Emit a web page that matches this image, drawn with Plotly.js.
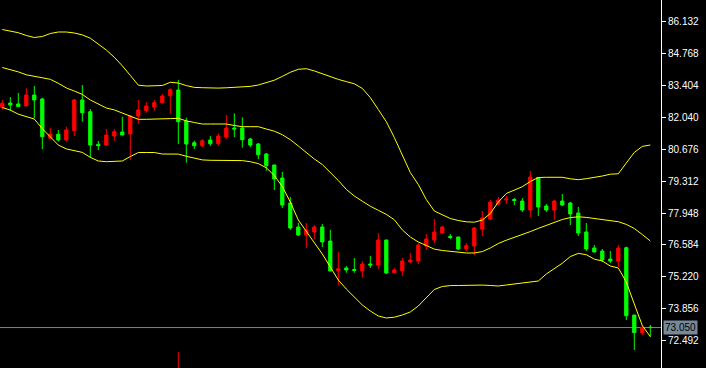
<!DOCTYPE html>
<html>
<head>
<meta charset="utf-8">
<script src="https://cdn.plot.ly/plotly-3.0.1.min.js"></script>
<style>
html,body{margin:0;padding:0;background:#000;}
#chart{width:706px;height:368px;}
</style>
</head>
<body>
<div id="chart"></div>
<script>
// ---- data ----
var openP = [82.471,82.655,82.612,82.526,82.997,82.826,81.145,81.316,81.072,81.470,
  82.783,82.283,80.888,80.857,81.243,81.414,81.329,82.099,82.325,82.484,
  82.668,82.967,83.211,81.885,80.956,80.827,81.072,80.913,81.201,81.585,
  81.585,81.115,80.901,80.473,80.003,79.447,78.377,77.351,77.009,77.137,
  77.351,76.752,75.482,75.597,75.533,75.482,75.768,75.725,76.795,75.396,
  75.482,75.853,75.896,76.538,76.795,77.094,76.944,76.923,76.423,76.538,
  77.265,77.693,78.335,78.506,78.527,78.463,78.078,79.468,78.249,78.078,
  78.463,78.377,77.950,77.137,76.453,76.324,75.982,75.896,76.466,73.587,
  72.830,73.065];
var highP = [82.783,82.911,83.082,83.283,83.382,82.881,81.598,81.500,81.641,82.826,
  83.425,82.398,81.029,81.543,81.543,82.069,82.141,82.783,82.685,82.783,
  83.040,83.283,83.638,82.026,81.042,81.115,81.243,81.358,82.141,82.214,
  82.043,81.158,80.944,80.516,80.010,79.703,78.634,77.535,77.522,77.437,
  77.479,77.223,76.282,75.682,76.025,75.896,76.110,77.094,76.800,75.597,
  76.025,76.239,76.666,77.051,77.693,77.394,77.051,76.930,76.666,77.351,
  78.035,78.506,78.634,78.677,78.591,78.591,79.746,79.480,78.335,78.506,
  78.762,78.420,78.206,77.522,76.581,76.410,76.324,76.581,76.509,73.590,
  73.159,73.159];
var lowP = [82.355,82.312,82.490,82.520,82.000,80.687,81.115,80.999,80.999,81.243,
  81.855,80.315,80.644,80.815,81.042,81.280,80.217,81.756,82.240,82.325,
  82.625,82.201,80.901,80.101,80.687,80.773,80.815,80.827,81.115,81.201,
  80.743,80.773,80.259,79.759,78.933,78.163,77.223,76.967,76.453,76.838,
  76.496,75.460,74.870,75.396,75.396,75.182,75.597,75.554,75.341,75.390,
  75.255,75.823,75.768,76.367,76.666,77.090,76.838,76.367,76.324,76.153,
  76.966,77.650,78.292,78.335,78.292,77.992,77.779,77.821,77.992,77.650,
  78.249,77.436,76.966,76.324,76.270,75.854,75.811,75.640,73.373,72.090,
  72.732,72.659];
var closeP = [82.642,82.569,82.500,82.997,82.783,81.213,81.329,81.072,81.500,82.783,
  82.240,80.857,80.827,81.286,81.427,81.286,82.099,82.355,82.526,82.668,
  82.954,83.223,81.855,80.901,80.827,81.042,80.913,81.243,81.585,81.543,
  81.085,80.857,80.443,79.973,79.404,78.292,77.308,77.009,77.223,77.351,
  76.710,75.469,75.567,75.512,75.490,75.768,75.725,76.795,75.383,75.512,
  75.896,75.939,76.581,76.838,77.137,77.351,76.902,76.410,76.551,77.308,
  77.736,78.420,78.506,78.549,78.484,78.078,79.489,78.206,78.078,78.463,
  78.292,77.907,77.094,76.410,76.282,75.939,75.896,76.453,73.556,72.830,
  73.050,73.050];
var upperBand = [85.798,85.734,85.661,85.542,85.456,85.499,85.627,85.691,85.691,85.649,
  85.567,85.426,85.187,84.921,84.609,84.246,83.835,83.416,83.382,83.382,
  83.403,83.540,83.510,83.399,83.322,83.309,83.292,83.292,83.305,83.326,
  83.343,83.365,83.424,83.523,83.630,83.792,83.968,84.096,84.122,84.027,
  83.895,83.779,83.664,83.570,83.476,83.279,82.885,82.377,81.855,81.179,
  80.452,79.682,79.169,78.527,78.035,77.864,77.714,77.629,77.573,77.556,
  77.650,77.928,78.420,78.784,78.925,79.075,79.297,79.468,79.477,79.477,
  79.477,79.412,79.374,79.417,79.464,79.532,79.609,79.626,80.088,80.542,
  80.798,80.858];
var middleBand = [84.173,84.092,83.985,83.861,83.805,83.745,83.668,83.497,83.300,83.164,
  83.022,82.783,82.612,82.441,82.359,82.231,82.086,81.957,81.957,81.957,
  81.957,81.987,82.000,81.889,81.820,81.756,81.756,81.756,81.756,81.692,
  81.641,81.641,81.641,81.542,81.448,81.299,81.085,80.816,80.529,80.259,
  80.024,79.691,79.340,78.959,78.677,78.454,78.240,78.065,77.890,77.663,
  77.227,76.923,76.709,76.559,76.405,76.346,76.307,76.273,76.239,76.239,
  76.299,76.453,76.645,76.786,76.902,77.043,77.154,77.291,77.415,77.548,
  77.672,77.753,77.787,77.761,77.710,77.659,77.612,77.577,77.462,77.287,
  77.030,76.752];
var lowerBand = [82.462,82.351,82.176,82.077,81.970,81.555,81.200,80.858,80.691,80.614,
  80.542,80.328,80.174,80.144,80.144,80.174,80.362,80.537,80.537,80.537,
  80.473,80.473,80.469,80.375,80.298,80.221,80.204,80.204,80.204,80.204,
  80.191,80.144,80.063,79.883,79.554,79.083,78.420,77.650,77.158,76.709,
  76.196,75.640,75.084,74.699,74.357,74.015,73.758,73.544,73.459,73.493,
  73.587,73.716,73.972,74.314,74.678,74.806,74.845,74.849,74.862,74.870,
  74.866,74.849,74.827,74.870,74.913,74.956,74.986,75.041,75.341,75.568,
  75.802,76.085,76.222,76.166,75.975,75.897,75.683,75.597,74.998,74.057,
  73.138,72.659];
var tickVals = [86.132,84.768,83.404,82.040,80.676,79.312,77.948,76.584,75.220,73.856,72.492];
var tickText = ["86.132","84.768","83.404","82.040","80.676","79.312","77.948","76.584","75.220","73.856","72.492"];
var bidPrice = 73.05;
var bidLabel = "73.050";
var markerBar = 22;        // bar index of the short red mark at the bottom
var markerTop = 72.00;     // price where that mark ends

var bars = openP.map(function(_, i){ return i; });

var candle = {
  type: 'candlestick',
  x: bars, open: openP, high: highP, low: lowP, close: closeP,
  increasing: {line: {color: '#ff0000', width: 1}, fillcolor: '#ff0000'},
  decreasing: {line: {color: '#00ff00', width: 1}, fillcolor: '#00ff00'},
  whiskerwidth: 0,
  hoverinfo: 'skip',
  showlegend: false
};
function band(vals){
  return {type: 'scatter', mode: 'lines', x: bars, y: vals,
    line: {color: '#ffff00', width: 1}, hoverinfo: 'skip', showlegend: false};
}

var layout = {
  width: 706, height: 368,
  margin: {l: 0, r: 45, t: 0, b: 0, pad: 0},
  paper_bgcolor: '#000000', plot_bgcolor: '#000000',
  boxgap: 0.42,
  showlegend: false,
  hovermode: false,
  xaxis: {visible: false, range: [-0.2875, 82.3375], rangeslider: {visible: false}, fixedrange: true},
  yaxis: {
    side: 'right', range: [71.32, 87.06],
    tickvals: tickVals, ticktext: tickText,
    ticks: 'outside', ticklen: 4, tickcolor: '#ffffff', tickwidth: 1,
    showline: true, linecolor: '#ffffff', linewidth: 1,
    showgrid: false, zeroline: false, fixedrange: true,
    tickfont: {family: 'Liberation Sans, Arial, sans-serif', size: 10, color: '#ffffff'}
  },
  shapes: [
    {type: 'line', xref: 'paper', x0: 0, x1: 1, yref: 'y', y0: bidPrice, y1: bidPrice,
     line: {color: '#778899', width: 1}, layer: 'below'},
    {type: 'line', xref: 'x', x0: markerBar, x1: markerBar, yref: 'paper', y0: 0, y1: 0,
     line: {color: '#ff0000', width: 1}}
  ],
  annotations: [
    {xref: 'paper', x: 1, xanchor: 'left', xshift: 2, yref: 'y', y: bidPrice, yanchor: 'middle',
     text: bidLabel, showarrow: false, bgcolor: '#778899', borderpad: 1,
     font: {family: 'Liberation Sans, Arial, sans-serif', size: 10, color: '#000000'}}
  ]
};
// red mark at the bottom: from bottom of plot up to markerTop
layout.shapes[1].yref = 'y';
layout.shapes[1].y0 = 71.32;
layout.shapes[1].y1 = markerTop;

Plotly.newPlot('chart', [candle, band(upperBand), band(middleBand), band(lowerBand)], layout, {displayModeBar: false, staticPlot: true});
</script>
</body>
</html>
